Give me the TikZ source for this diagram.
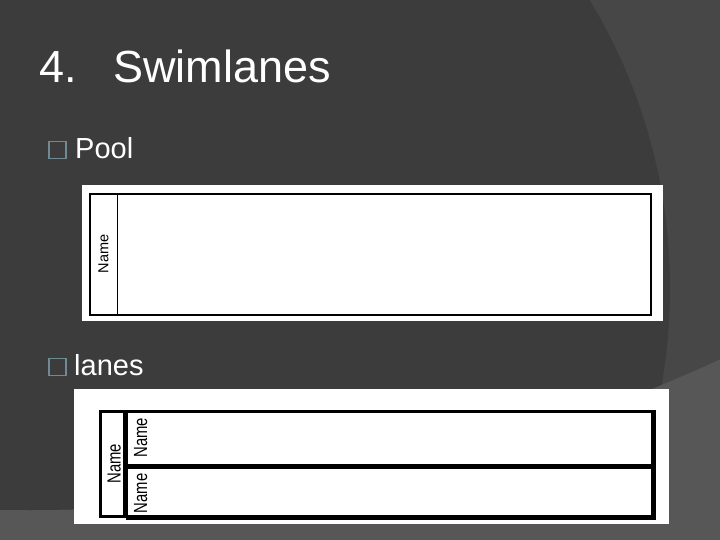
\documentclass[tikz,border=0pt]{standalone}
\usepackage{fontspec}
\setmainfont{Liberation Sans}
\newfontfamily\narrowsans[FakeStretch=0.78]{Liberation Sans}
\usetikzlibrary{positioning}
\definecolor{slidedark}{HTML}{3C3C3C}
\definecolor{slidemid}{HTML}{474747}
\definecolor{slidelight}{HTML}{575757}
\definecolor{bulletgray}{HTML}{6F8A93}

\begin{document}
\begin{tikzpicture}[x=1pt, y=-1pt,
  titletext/.style={text=white, inner sep=0pt, font=\fontsize{45}{50}\selectfont},
  bullettext/.style={text=white, inner sep=0pt, anchor=base west, font=\fontsize{29}{33}\selectfont},
  bulletbox/.style={draw=bulletgray, line width=1.7pt, minimum size=17pt, inner sep=0pt},
  paper/.style={fill=white, inner sep=0pt},
  lanename/.style={rotate=90, inner sep=0pt, font=\narrowsans\fontsize{19}{21}\selectfont}]
\useasboundingbox (0,0) rectangle (720,540);

% background of the slide
\fill[slidelight] (0,0) rectangle (720,540);
\begin{scope}
\clip (0,0) rectangle (720,540);
\fill[slidemid] (30,-1140) circle (1650);
\clip (30,-1140) circle (1650);
\fill[slidedark] (115,288) circle (555);
\end{scope}

\node[titletext, anchor=base west] (num) at (39,83) {4.};
\node[titletext, base right=36pt of num] (title) {Swimlanes};

\node[bulletbox] (poolbullet) at (57.5,150) {};
\node[bullettext] (pooltext) at (75,158.3) {Pool};
\node[bulletbox] (lanesbullet) at (57.5,367) {};
\node[bullettext] (lanestext) at (74,375) {lanes};

% pool
\node[paper, minimum width=581pt, minimum height=136pt] (poolpaper) at (372,253) {};
\node[draw, line width=2pt, minimum width=561pt, minimum height=121pt] (pool) at (370.75,254.5) {};
\node[draw, line width=1pt, anchor=north west, minimum width=27.5pt, minimum height=121pt] (poolhead) at (pool.north west) {};
\node[rotate=90, inner sep=0pt, font=\fontsize{14.5}{17}\selectfont] at (poolhead) {Name};

% lanes
\node[paper, minimum width=595pt, minimum height=135pt] (lanespaper) at (371.5,456.5) {};
\node[draw, line width=3pt, minimum width=552pt, minimum height=105.7pt] (lanes) at (376,463.85) {};
\node[draw, line width=3pt, anchor=north west, minimum width=24.3pt, minimum height=105.7pt] (laneshead) at (lanes.north west) {};
\node[draw, line width=2.6pt, anchor=north west, minimum width=527.7pt, minimum height=54pt] (laneA) at (laneshead.north east) {};
\node[draw, line width=2.6pt, anchor=north west, minimum width=527.7pt, minimum height=51.7pt] (laneB) at (laneA.south west) {};
\node[lanename] at ([xshift=2pt]laneshead.center) {Name};
\node[lanename] at ([xshift=15pt]laneA.west) {Name};
\node[lanename] at ([xshift=15pt]laneB.west) {Name};
\end{tikzpicture}
\end{document}
